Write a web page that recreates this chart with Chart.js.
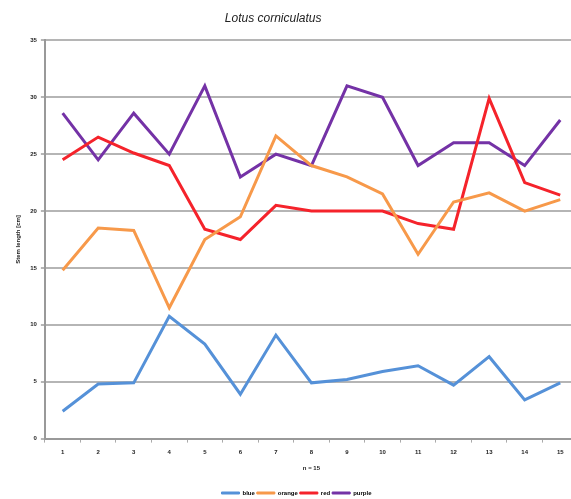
<!DOCTYPE html>
<html>
<head>
<meta charset="utf-8">
<script src="https://cdn.jsdelivr.net/npm/chart.js@4/dist/chart.umd.min.js"></script>
<style>
html,body{margin:0;padding:0;background:#fff;overflow:hidden;}
#wrap{width:582px;height:499px;position:relative;}
</style>
</head>
<body>
<div id="wrap"><canvas id="c" width="582" height="499"></canvas></div>
<script>
const categories = ["1","2","3","4","5","6","7","8","9","10","11","12","13","14","15"];
const blue   = [2.4, 4.8, 4.9, 10.75, 8.3, 3.9, 9.1, 4.9, 5.2, 5.9, 6.4, 4.7, 7.2, 3.4, 4.9];
const orange = [14.8, 18.5, 18.3, 11.5, 17.5, 19.5, 26.6, 24.0, 23.0, 21.5, 16.2, 20.8, 21.6, 20.0, 21.0];
const red    = [24.5, 26.5, 25.1, 24.0, 18.4, 17.5, 20.5, 20.0, 20.0, 20.0, 18.9, 18.4, 29.9, 22.5, 21.4];
const purple = [28.6, 24.5, 28.6, 25.0, 31.0, 23.0, 25.0, 24.0, 31.0, 30.0, 24.0, 26.0, 26.0, 24.0, 28.0];
const seriesNames = ["blue", "orange", "red", "purple"];
const yTicks = [0, 5, 10, 15, 20, 25, 30, 35];

const colors = ["#5591d8", "#f7994a", "#f5232b", "#7432a6"];
const values = [blue, orange, red, purple];
const tickFont = {family: "'Liberation Sans', Arial, sans-serif", size: 6, weight: "bold"};

new Chart(document.getElementById("c"), {
  type: "line",
  data: {
    labels: categories,
    datasets: seriesNames.map((n, i) => ({
      label: n,
      data: values[i],
      borderColor: colors[i],
      backgroundColor: colors[i],
      borderWidth: 3,
      pointRadius: 0,
      tension: 0
    }))
  },
  options: {
    responsive: false,
    animation: false,
    layout: {padding: {left: 15, right: 4, top: 5, bottom: -7}},
    plugins: {
      title: {
        display: true,
        text: "Lotus corniculatus" + "\u00A0".repeat(14),
        color: "#222",
        font: {family: "'Liberation Sans', Arial, sans-serif", size: 12, style: "italic", weight: "normal"},
        padding: {top: 6, bottom: 15}
      },
      legend: {
        position: "bottom",
        labels: {
          color: "#222",
          font: tickFont,
          boxWidth: 18,
          boxHeight: 2,
          padding: 2,
          generateLabels(chart) {
            return chart.data.datasets.map((d, i) => ({
              text: d.label, fillStyle: d.borderColor, strokeStyle: d.borderColor,
              lineWidth: 1, datasetIndex: i, hidden: false
            }));
          }
        }
      },
      tooltip: {enabled: false}
    },
    scales: {
      x: {
        offset: true,
        grid: {drawOnChartArea: false, drawTicks: true, tickLength: 4, offset: true, color: "#aaa", lineWidth: 1},
        border: {color: "#999", width: 2},
        ticks: {color: "#222", font: tickFont, padding: 6, maxRotation: 0, autoSkip: false},
        title: {display: true, text: "n = 15", color: "#222", font: tickFont, padding: {top: 3, bottom: 16}}
      },
      y: {
        min: 0, max: 35,
        afterBuildTicks(axis) { axis.ticks = yTicks.map(v => ({value: v})); },
        grid: {color: "#b5b5b5", lineWidth: 2, tickLength: 4, drawTicks: true},
        border: {color: "#999", width: 2},
        ticks: {color: "#222", font: tickFont, padding: 4},
        title: {display: true, text: "Stem length [cm]", color: "#222", font: tickFont, padding: {top: 0, bottom: 4}}
      }
    }
  }
});
</script>
</body>
</html>
